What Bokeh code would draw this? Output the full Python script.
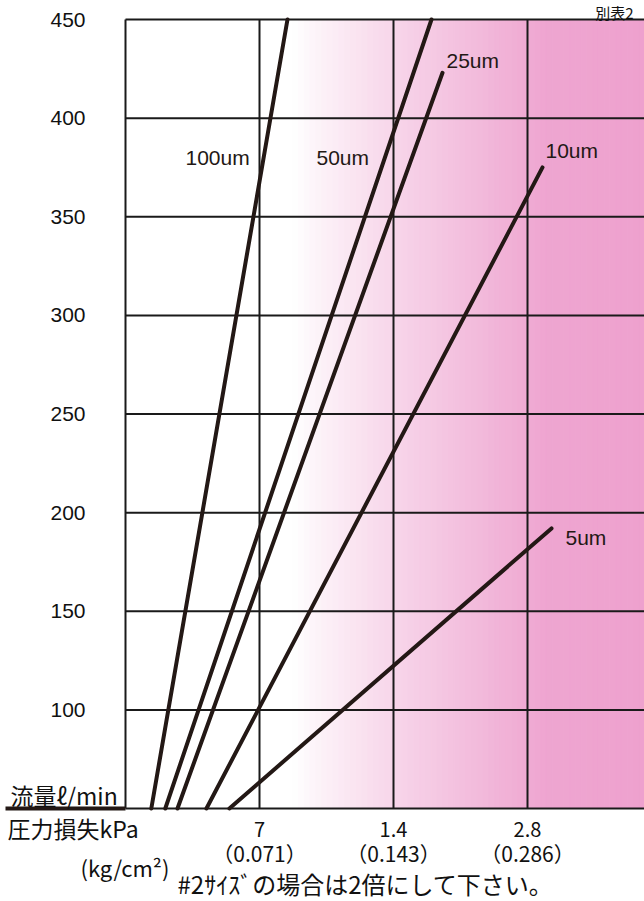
import numpy as np
from bokeh.plotting import figure
from bokeh.models import Range1d, Label, ColumnDataSource
from bokeh.core.properties import value
from bokeh.embed import file_html
from bokeh.resources import INLINE

# ---------------- data ----------------
sizes = ["100um", "50um", "25um", "10um", "5um"]
kpa_start = [0.400, 0.430, 0.458, 0.532, 0.599]
flow_start = [50, 50, 50, 50, 50]
kpa_end = [0.809, 1.704, 1.804, 3.026, 3.170]
flow_end = [450, 450, 423, 375, 192]

y_ticks = [100, 150, 200, 250, 300, 350, 400, 450]
y_tick_labels = ["100", "150", "200", "250", "300", "350", "400", "450"]
x_ticks = [0.7, 1.4, 2.8]
x_tick_labels = ["7", "1.4", "2.8"]
x_tick_sublabels = ["（0.071）", "（0.143）", "（0.286）"]

# ---------------- layout constants ----------------
W, H = 644, 901
FR_L, FR_T, FR_B = 125, 19, 808          # plot-area edges (pixels)
PX_OCT = 134.0                            # pixels per doubling of pressure
PX_UNIT = (FR_B - FR_T) / 400.0           # pixels per l/min
XA, YA = 0.35, 50                         # value at plot-area left / bottom
YB = 450                                  # value at plot-area top


def sx(px):  # pixel column -> pressure value
    return XA * 2 ** ((px - FR_L) / PX_OCT)


def sy(py):  # pixel row -> flow value
    return YA + (FR_B - py) / PX_UNIT


INK = "#231815"
GRID = "#1a1a1a"
JP = "Noto Sans CJK JP"

p = figure(width=W, height=H, x_axis_type="log",
           x_range=Range1d(sx(0), sx(W)), y_range=Range1d(sy(H), sy(0)),
           x_axis_location=None, y_axis_location=None,
           output_backend="svg", toolbar_location=None,
           min_border=0, min_border_left=0, min_border_right=0,
           min_border_top=0, min_border_bottom=0)
p.outline_line_color = None
p.grid.visible = False
p.background_fill_color = "white"
p.border_fill_color = "white"

XR = sx(W)

# pink gradient background (decoration)
n = 90
fr = np.linspace(0, 1, n + 1)
edges = XA * (XR / XA) ** fr
pxc = FR_L + (fr[:-1] + fr[1:]) / 2 * (W - FR_L)
t = np.clip((pxc - 295) / (545 - 295), 0, 1) ** 0.85
extra = np.clip((pxc - 545) / 100, 0, 1) * 0.05
pink = np.array([239, 166, 209])
cols = []
for ti, ei in zip(t, extra):
    c = 255 + (pink - 255) * (ti + ei)
    c = np.clip(c, 0, 255).astype(int)
    cols.append("#%02x%02x%02x" % tuple(c))
p.quad(left=edges[:-1], right=edges[1:], bottom=YA, top=YB,
       fill_color=cols, line_color=cols, line_width=1)

# grid lines and borders
hy = y_ticks[:-1]
p.segment(x0=[XA] * len(hy), y0=hy, x1=[XR] * len(hy), y1=hy, line_color=GRID, line_width=2)
p.segment(x0=x_ticks, y0=[YA] * len(x_ticks), x1=x_ticks, y1=[YB] * len(x_ticks),
          line_color=GRID, line_width=2)
p.segment(x0=[XA, XA, XA], y0=[YA, YB, YA], x1=[XA, XR, XR], y1=[YB, YB, YA],
          line_color=GRID, line_width=2)
# thick baseline under the flow-unit label
p.segment(x0=[sx(5)], y0=[YA], x1=[XA], y1=[YA], line_color=INK, line_width=4)

# data lines
src = ColumnDataSource(dict(x0=kpa_start, y0=flow_start, x1=kpa_end, y1=flow_end, name=sizes))
p.segment(x0="x0", y0="y0", x1="x1", y1="y1", source=src,
          line_width=4, line_color=INK, line_cap="round")

# y tick labels
p.text(x=[sx(85)] * len(y_ticks), y=y_ticks, text=y_tick_labels,
       text_align="right", text_baseline="middle",
       text_font=value("Liberation Sans"), text_font_size=value("21px"), text_color="#111111")

# x tick labels (two lines)
p.text(x=x_ticks, y=[sy(829)] * len(x_ticks), text=x_tick_labels,
       text_align="center", text_baseline="middle",
       text_font=value(JP), text_font_size=value("20px"), text_color="#111111")
p.text(x=x_ticks, y=[sy(852)] * len(x_ticks), text=x_tick_sublabels,
       text_align="center", text_baseline="middle",
       text_font=value(JP), text_font_size=value("21px"), text_color="#111111")

# series labels
lab_px = [(185, 157), (316, 157), (446, 60), (545, 150), (565, 537)]
for name, (lx, ly) in zip(sizes, lab_px):
    p.add_layout(Label(x=sx(lx), y=sy(ly), text=name, text_align="left", text_baseline="middle",
                       text_font="Liberation Sans", text_font_size="21px", text_color=INK))

# extra texts
extra_texts = [
    (10, 794, "流量ℓ/min", "left", "middle", "23px"),
    (7, 827, "圧力損失kPa", "left", "middle", "23px"),
    (80, 866, "(kg/cm²)", "left", "middle", "22px"),
    (365, 883, "#2ｻｲｽﾞの場合は2倍にして下さい。", "center", "middle", "24px"),
    (633, 1.5, "別表2", "right", "top", "15px"),
]
for tx, ty, tt, ta, tb, fs in extra_texts:
    p.add_layout(Label(x=sx(tx), y=sy(ty), text=tt, text_align=ta, text_baseline=tb,
                       text_font=JP, text_font_size=fs, text_color="#111111"))

open("out.html", "w").write(file_html(p, INLINE))
